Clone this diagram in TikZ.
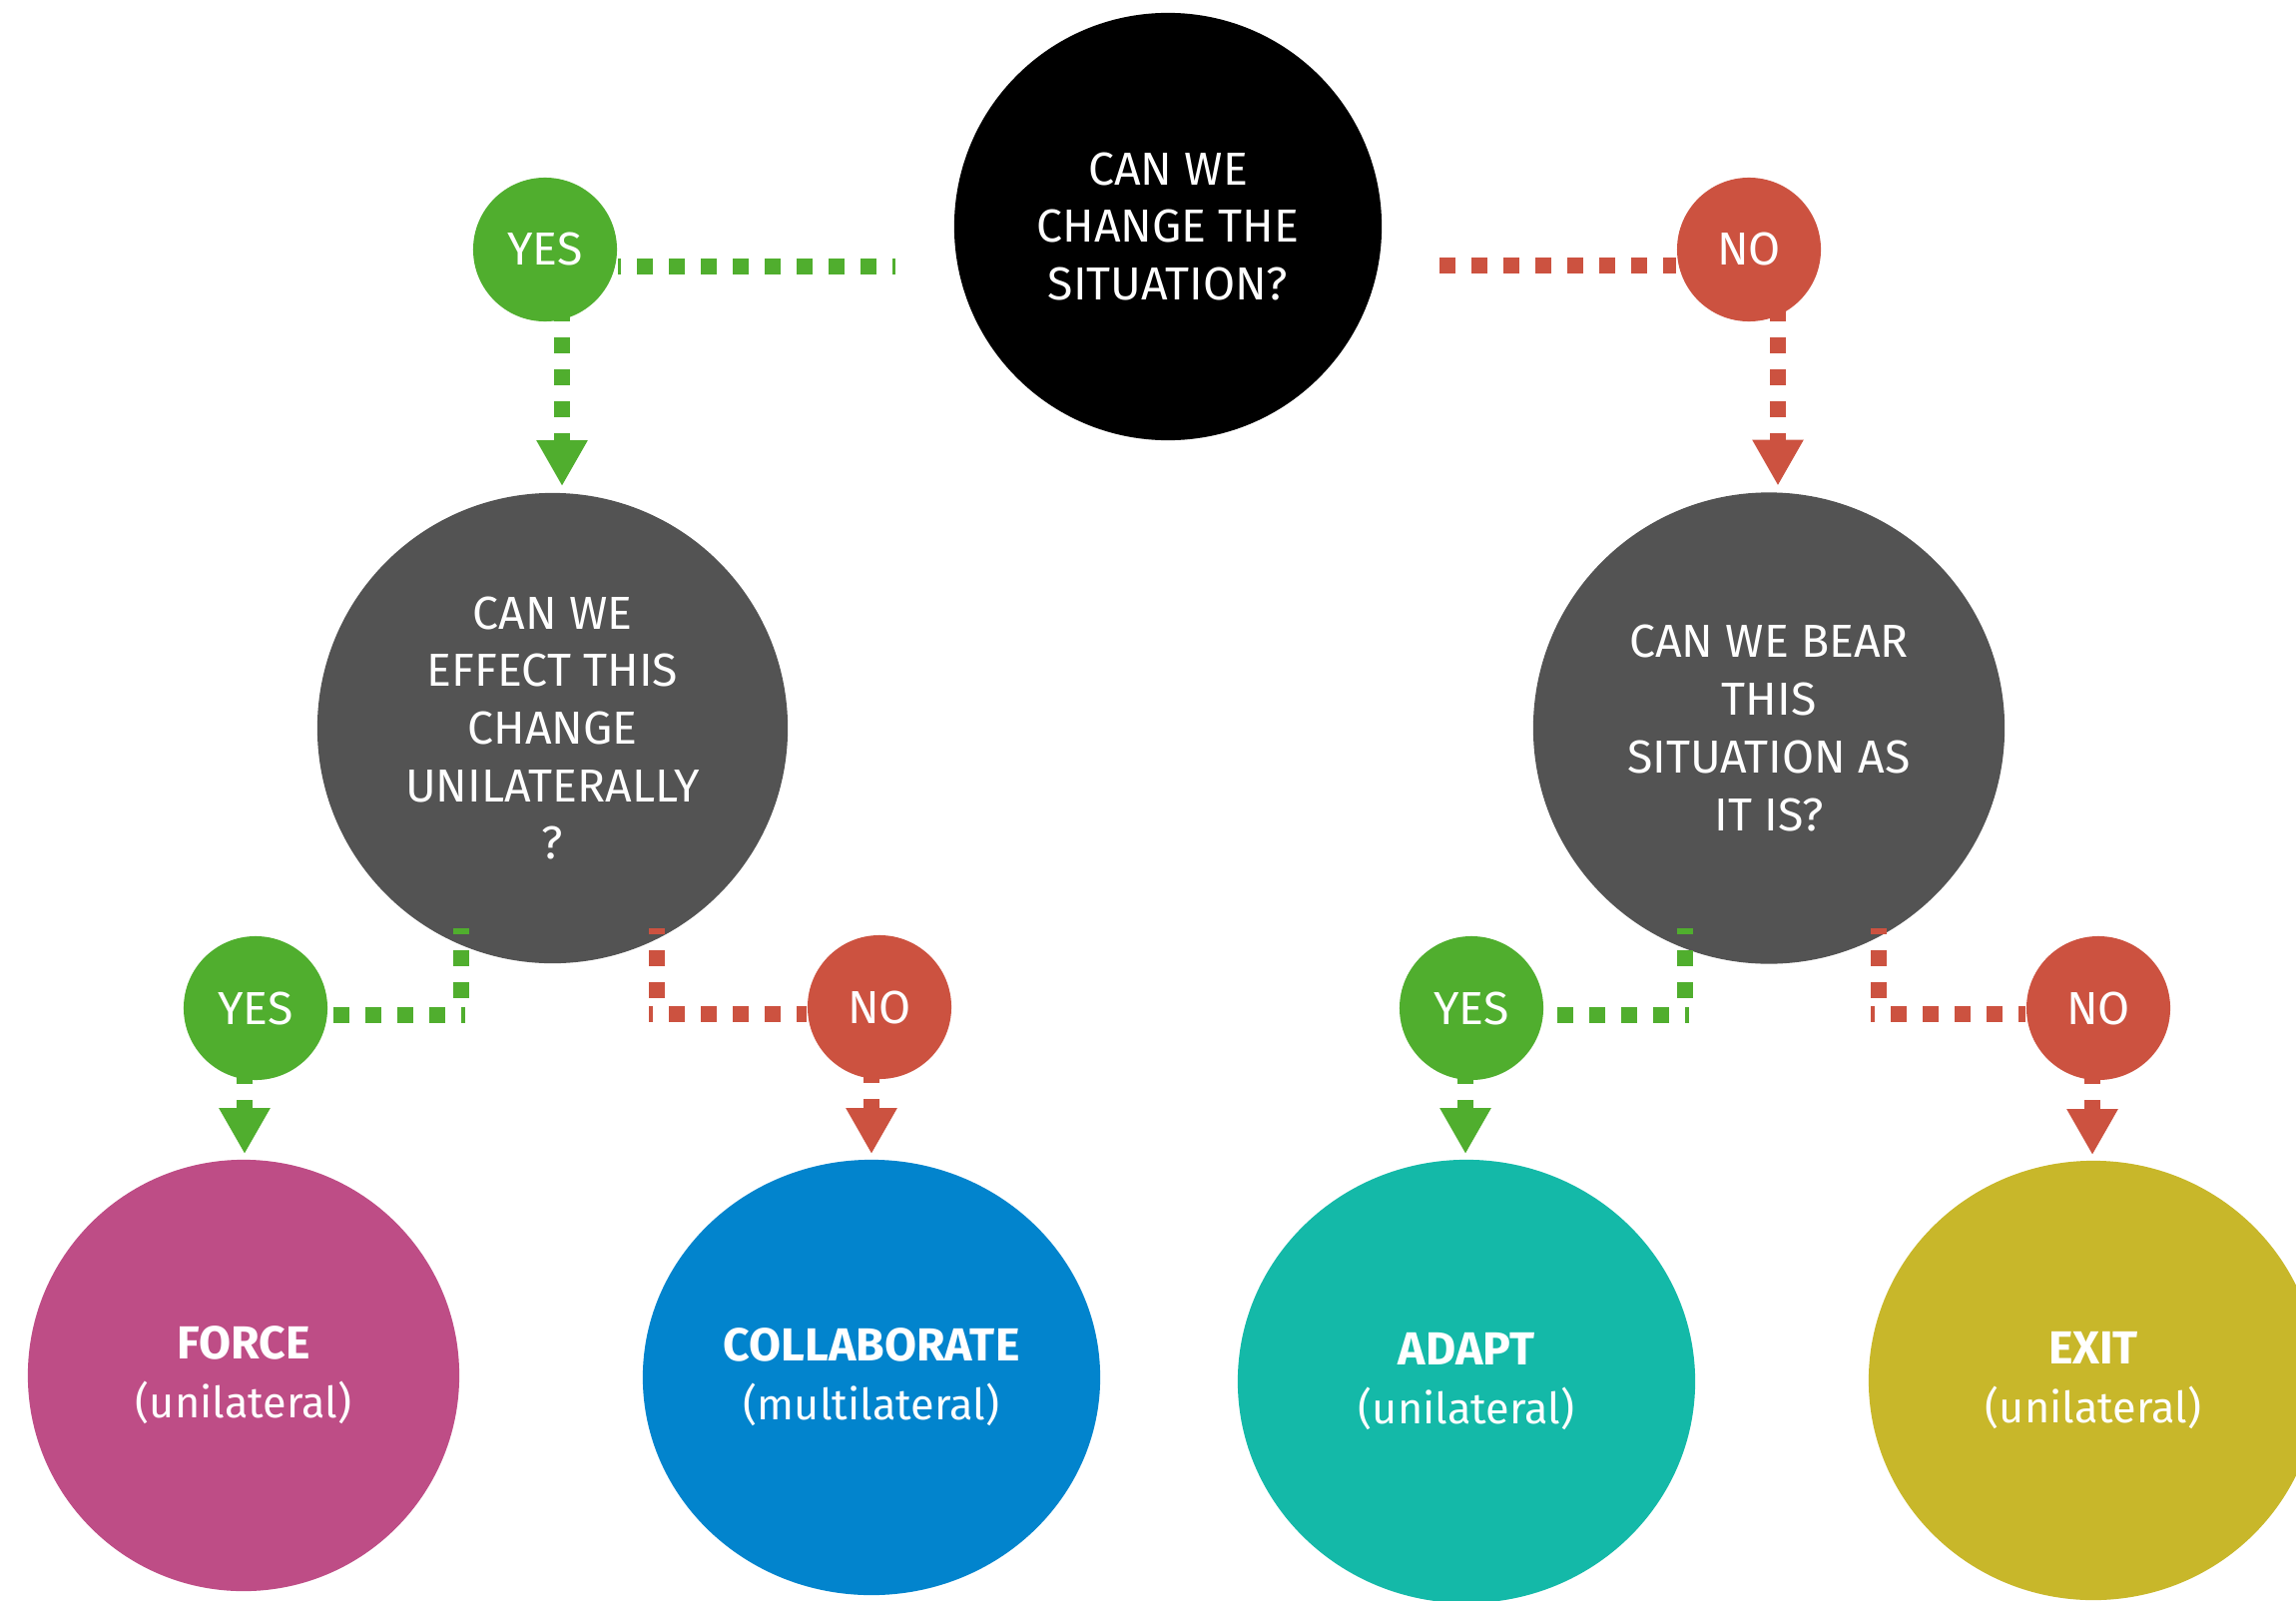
\documentclass[tikz,border=0pt]{standalone}
\usepackage{fontspec}
\setmainfont{Fira Sans}
\usetikzlibrary{arrows.meta,shapes.geometric,calc}

\definecolor{yesgreen}{HTML}{50AE2E}
\definecolor{nored}{HTML}{CC5240}
\definecolor{askgray}{HTML}{535353}
\definecolor{forcecol}{HTML}{BE4D86}
\definecolor{collabcol}{HTML}{0284CD}
\definecolor{adaptcol}{HTML}{14B9A8}
\definecolor{exitcol}{HTML}{C8B72A}

% smaller size for the bracketed remark under each outcome
\newcommand{\remark}[1]{{\fontsize{12.3pt}{16.8pt}\selectfont #1}}

\begin{document}
\begin{tikzpicture}[x=0.01cm,y=-0.01cm,
  every node/.style={text=white, align=center, inner sep=0pt,
    font=\fontsize{13.2pt}{16.4pt}\selectfont},
  bubble/.style={circle, minimum size=#1},
  outcome/.style={ellipse, font=\fontsize{13.2pt}{16.8pt}\selectfont},
  link/.style={line width=0.16cm, dash pattern=on 0.16cm off 0.16cm},
  yeslink/.style={link, draw=yesgreen},
  nolink/.style={link, draw=nored},
  arrowed/.style={-{Triangle[width=0.48cm,length=0.46cm]}, shorten >=#1},
  arrowed/.default=0.05cm,
]
\useasboundingbox (0,0) rectangle (2300,1603);
\clip (0,0) rectangle (2300,1603);

% questions
\node[bubble=4.28cm, fill=black] (q1) at (1170,227) {CAN WE\\CHANGE THE\\SITUATION?};
\node[bubble=4.71cm, fill=askgray] (q2) at (553.5,729.5) {CAN WE\\EFFECT THIS\\CHANGE\\UNILATERALLY\\?};
\node[bubble=4.72cm, fill=askgray] (q3) at (1772,729.5) {CAN WE BEAR\\THIS\\SITUATION AS\\IT IS?};

% answers
\node[bubble=1.44cm, fill=yesgreen] (y1) at (546,250) {YES};
\node[bubble=1.44cm, fill=nored] (n1) at (1752,250) {NO};
\node[bubble=1.44cm, fill=yesgreen] (y2) at (256,1010) {YES};
\node[bubble=1.44cm, fill=nored] (n2) at (881,1009) {NO};
\node[bubble=1.44cm, fill=yesgreen] (y3) at (1474,1010) {YES};
\node[bubble=1.44cm, fill=nored] (n3) at (2102,1010) {NO};

% outcomes
\node[outcome, minimum width=4.32cm, minimum height=4.32cm, fill=forcecol] (o1) at (244,1378) {\textbf{FORCE}\\\remark{(unilateral)}};
\node[outcome, minimum width=4.58cm, minimum height=4.36cm, fill=collabcol] (o2) at (873,1380) {\textbf{COLLABORATE}\\\remark{(multilateral)}};
\node[outcome, minimum width=4.58cm, minimum height=4.44cm, fill=adaptcol] (o3) at (1469,1384) {\textbf{ADAPT}\\\remark{(unilateral)}};
\node[outcome, minimum width=4.50cm, minimum height=4.40cm, fill=exitcol] (o4) at (2097,1383) {\textbf{EXIT}\\\remark{(unilateral)}};

% free ends of the branch lines
\coordinate (g1) at (897,267);
\coordinate (r1) at (1442,266);
\coordinate (g2top) at (462,930);  \coordinate (g2bend) at (462,1008);  \coordinate (g2run) at (466,1017);
\coordinate (r2top) at (658,930);  \coordinate (r2bend) at (658,1008);  \coordinate (r2run) at (650,1016);
\coordinate (g3top) at (1688,930); \coordinate (g3bend) at (1688,1008); \coordinate (g3run) at (1692,1017);
\coordinate (r3top) at (1882,930); \coordinate (r3bend) at (1882,1008); \coordinate (r3run) at (1874,1016);

% first question
\draw[yeslink, dash phase=0.13cm] (g1) -- (y1.east |- g1);
\draw[nolink] (r1) -- (n1.west |- r1);
\draw[yeslink, arrowed=0.06cm] ($(y1)+(17,56)$) -- ($(q2.north)+(9.5,0)$);
\draw[nolink, arrowed=0.06cm] ($(n1)+(29,56)$) -- ($(q3.north)+(9,0)$);

% second questions
\draw[yeslink, dash phase=0.10cm] (g2top) -- (g2bend);
\draw[yeslink, dash phase=0.12cm] (g2run) -- (y2.east |- g2run);
\draw[nolink, dash phase=0.10cm] (r2top) -- (r2bend);
\draw[nolink, dash phase=0.12cm] (r2run) -- (n2.west |- r2run);
\draw[yeslink, dash phase=0.10cm] (g3top) -- (g3bend);
\draw[yeslink, dash phase=0.12cm] (g3run) -- (y3.east |- g3run);
\draw[nolink, dash phase=0.10cm] (r3top) -- (r3bend);
\draw[nolink, dash phase=0.12cm] (r3run) -- (n3.west |- r3run);

% outcomes
\draw[yeslink, arrowed] ($(y2)+(-11,60)$) -- ($(o1.north)+(1,0)$);
\draw[nolink, arrowed] ($(n2)+(-8,60)$) -- (o2.north);
\draw[yeslink, arrowed] ($(y3)+(-6,60)$) -- ($(o3.north)+(-1,0)$);
\draw[nolink, arrowed] ($(n3)+(-6,60)$) -- ($(o4.north)+(-1,0)$);
\end{tikzpicture}
\end{document}
